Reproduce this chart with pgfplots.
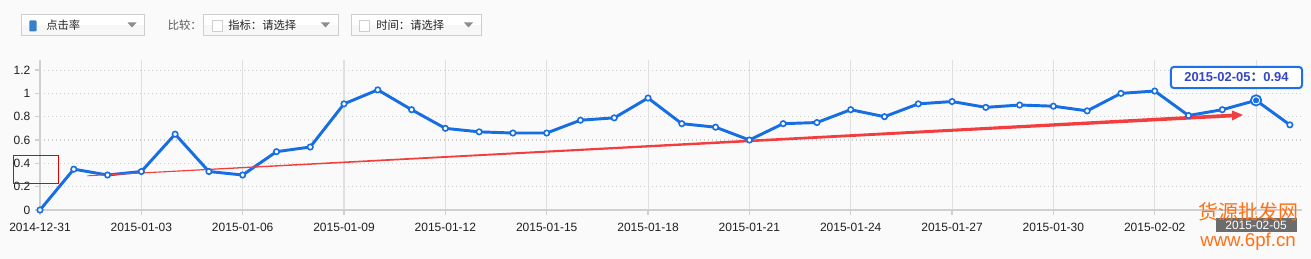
\documentclass[border=0pt]{standalone}
\usepackage{pgfplots}
\pgfplotsset{compat=1.18}
\usepackage{fontspec}
\setmainfont{Liberation Sans}
\newfontfamily\cjk{Noto Sans CJK SC}
\definecolor{bg}{RGB}{250,250,250}
\definecolor{lineblue}{RGB}{22,110,226}
\definecolor{gridc}{RGB}{224,224,224}
\definecolor{dotc}{RGB}{205,205,205}
\definecolor{axisc}{RGB}{208,208,208}
\definecolor{arrowred}{RGB}{242,62,62}
\definecolor{tipblue}{RGB}{30,112,232}
\definecolor{tiptext}{RGB}{52,72,196}
\definecolor{wmorange}{RGB}{255,112,20}
\definecolor{boxborder}{RGB}{206,206,206}
\definecolor{tri}{RGB}{140,140,140}
\definecolor{sqblue}{RGB}{58,128,200}
\definecolor{labgrey}{RGB}{108,108,108}
\begin{document}
\begin{tikzpicture}
\begin{scope}[x=0.75pt,y=-0.75pt,yshift=194.25pt]
  \fill[bg] (0,0) rectangle (1311,259);
  \useasboundingbox (0,0) rectangle (1311,259);
  % dropdown 1
  \draw[boxborder, line width=0.75pt, fill=white] (21.5,14.5) rectangle (144.5,35.5);
  \fill[black!3] (22,25) rectangle (144,35);
  \fill[sqblue, rounded corners=0.6pt] (29.3,20.5) rectangle (36.5,31.5);
  \node[anchor=west, font=\cjk\fontsize{8.5}{10}\selectfont, text=black!85, inner sep=0] at (46,25.5) {点击率};
  \fill[tri] (127.5,22.5) -- (136.5,22.5) -- (132,27.5) -- cycle;
  % label
  \node[anchor=west, font=\cjk\fontsize{8.5}{10}\selectfont, text=black!65, inner sep=0] at (167.5,25.5) {比较：};
  % dropdown 2
  \draw[boxborder, line width=0.75pt, fill=white] (203.5,14.5) rectangle (338.5,35.5);
  \fill[black!3] (204,25) rectangle (338,35);
  \draw[boxborder, line width=0.75pt, fill=white] (212.5,20.5) rectangle (222.5,31.5);
  \node[anchor=west, font=\cjk\fontsize{8.5}{10}\selectfont, text=black!85, inner sep=0] at (228,25.5) {指标：请选择};
  \fill[tri] (321,22.5) -- (330,22.5) -- (325.5,27.5) -- cycle;
  % dropdown 3
  \draw[boxborder, line width=0.75pt, fill=white] (351.5,14.5) rectangle (481.5,35.5);
  \fill[black!3] (352,25) rectangle (481,35);
  \draw[boxborder, line width=0.75pt, fill=white] (359.5,20.5) rectangle (369.5,31.5);
  \node[anchor=west, font=\cjk\fontsize{8.5}{10}\selectfont, text=black!85, inner sep=0] at (376,25.5) {时间：请选择};
  \fill[tri] (464,22.5) -- (473,22.5) -- (468.5,27.5) -- cycle;
\end{scope}

\begin{axis}[
  at={(30pt,36.75pt)}, anchor=south west,
  scale only axis, width=946.5pt, height=112.4pt,
  xmin=0, xmax=37.36, ymin=0, ymax=1.285,
  clip=false,
  axis lines*=left,
  axis line style={axisc, line width=0.9pt},
  xtick={0,3,...,36},
  xticklabels={2014-12-31,2015-01-03,2015-01-06,2015-01-09,2015-01-12,2015-01-15,2015-01-18,2015-01-21,2015-01-24,2015-01-27,2015-01-30,2015-02-02,{}},
  ytick={0,0.2,0.4,0.6,0.8,1,1.2},
  yticklabels={0,0.2,0.4,0.6,0.8,1,1.2},
  tick align=outside, major tick length=3.75pt,
  tick style={axisc, line width=0.9pt},
  xmajorgrids, ymajorgrids,
  x grid style={gridc, line width=0.8pt},
  y grid style={dotc, line width=0.8pt, dash pattern=on 0.8pt off 2.2pt},
  ticklabel style={font=\fontsize{9}{10}\selectfont, text=black!88},
  xticklabel style={yshift=-2.8pt},
]
\addplot[lineblue, line width=2.2pt, mark=*, mark size=2.05pt,
  mark options={fill=white, draw=lineblue, line width=1.2pt, solid}]
coordinates {
(0,0) (1,0.35) (2,0.30) (3,0.33) (4,0.65) (5,0.33) (6,0.30) (7,0.50) (8,0.54)
(9,0.91) (10,1.03) (11,0.86) (12,0.70) (13,0.67) (14,0.66) (15,0.66) (16,0.77)
(17,0.79) (18,0.96) (19,0.74) (20,0.71) (21,0.60) (22,0.74) (23,0.75) (24,0.86)
(25,0.80) (26,0.91) (27,0.93) (28,0.88) (29,0.90) (30,0.89) (31,0.85) (32,1.00)
(33,1.02) (34,0.81) (35,0.86) (36,0.94) (37,0.73)
};
% trend arrow
\addplot[draw=none, fill=arrowred] coordinates {
(1.40,0.297) (35.29,0.826) (35.29,0.853) (35.61,0.815) (35.29,0.767) (35.29,0.794) (1.40,0.289)
};
% red rectangle
\addplot[red!90!black, line width=0.75pt, mark=none] coordinates {
(-0.77,0.223) (0.56,0.223) (0.56,0.471) (-0.77,0.471) (-0.77,0.223)
};
% highlighted point
\addplot[only marks, mark=*, mark size=3.9pt, mark options={fill=white, draw=lineblue, line width=1.3pt}] coordinates {(36,0.94)};
\addplot[only marks, mark=*, mark size=2pt, mark options={fill=lineblue, draw=lineblue}] coordinates {(36,0.94)};
% tooltip
\node[draw=tipblue, line width=1.5pt, rounded corners=2.5pt, fill=white,
  minimum width=98.5pt, minimum height=16pt, inner sep=0pt,
  font=\bfseries\fontsize{9.7}{11}\selectfont, text=tiptext] at (axis cs:35.42,1.136)
  {2015-02-05{\cjk\bfseries ：}0.94};
% hovered x label
\node[fill=labgrey, text=white, font=\fontsize{9}{10}\selectfont, inner sep=0pt,
  minimum width=60.75pt, minimum height=10.5pt] at (axis cs:36,-0.129) {2015-02-05};
\end{axis}

\begin{scope}[x=0.75pt,y=-0.75pt,yshift=194.25pt]
  \node[font=\cjk\fontsize{15}{16}\selectfont, text=wmorange, inner sep=0] at (1248,212) {货源批发网};
  \node[font=\fontsize{14}{15}\selectfont, text=wmorange, inner sep=0] at (1248,242) {www.6pf.cn};
\end{scope}
\end{tikzpicture}
\end{document}
